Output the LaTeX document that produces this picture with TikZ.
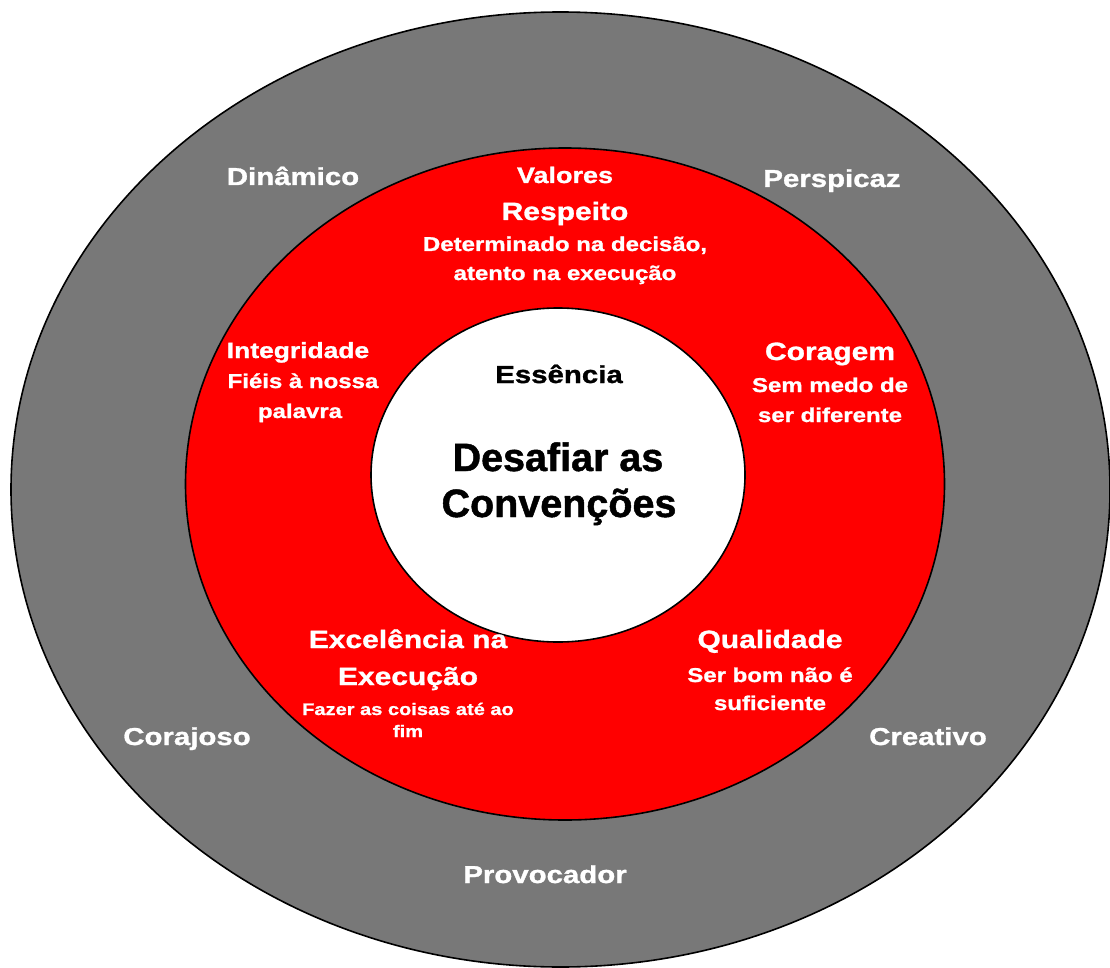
\documentclass[tikz,border=0pt]{standalone}
\usepackage{fontspec}
\setmainfont{Liberation Sans}
\newfontfamily\heavyfont{Liberation Sans}[FakeStretch=1.2, FakeBold=1.2]
\newfontfamily\titlefont{Liberation Sans}[FakeBold=1.2]
\usepackage{tikz}

\definecolor{ringgrey}{HTML}{787878}
\definecolor{ringred}{HTML}{FF0000}

\begin{document}
\begin{tikzpicture}[x=1pt, y=-1pt,
  ring/.style={draw=black, line width=1.6pt},
  outerlabel/.style={anchor=base, text=white, inner sep=0pt, font=\heavyfont\bfseries\fontsize{24.5}{29}\selectfont},
  valuetitle/.style={anchor=base, text=white, inner sep=0pt, font=\heavyfont\bfseries\fontsize{25}{30}\selectfont},
  valuetext/.style={anchor=base, text=white, inner sep=0pt, font=\heavyfont\bfseries\fontsize{20}{25}\selectfont}]

\useasboundingbox (0,0) rectangle (1110,968);
\clip (0,0) rectangle (1110,968);

\fill[white] (0,0) rectangle (1110,968);

% three rings
\draw[ring, fill=ringgrey] (560.5,489.5) ellipse [x radius=549.5pt, y radius=477.5pt];
\draw[ring, fill=ringred] (565,484) ellipse [x radius=379.5pt, y radius=336pt];
\draw[ring, fill=white] (558,475) ellipse [x radius=187pt, y radius=167pt];

% outer ring
\node[outerlabel] (dinamico) at (293,185) {Dinâmico};
\node[outerlabel] (perspicaz) at (832,187) {Perspicaz};
\node[outerlabel] (corajoso) at (187,745) {Corajoso};
\node[outerlabel] (creativo) at (928,745) {Creativo};
\node[outerlabel] (provocador) at (545,883) {Provocador};

% values
\node[valuetitle, font=\heavyfont\bfseries\fontsize{22.5}{27}\selectfont] (valores) at (565,183) {Valores};
\node[valuetitle] (respeito) at (565,220) {Respeito};
\node[valuetext] (respeito1) at (565,251) {Determinado na decisão,};
\node[valuetext] (respeito2) at (565,280) {atento na execução};

\node[valuetitle, font=\heavyfont\bfseries\fontsize{22}{27}\selectfont] (integridade) at (298,358) {Integridade};
\node[valuetext] (integridade1) at (303,388) {Fiéis à nossa};
\node[valuetext] (integridade2) at (300,418) {palavra};

\node[valuetitle] (coragem) at (830,360) {Coragem};
\node[valuetext] (coragem1) at (830,392) {Sem medo de};
\node[valuetext] (coragem2) at (830,422) {ser diferente};

\node[valuetitle] (qualidade) at (770,648) {Qualidade};
\node[valuetext] (qualidade1) at (770,682) {Ser bom não é};
\node[valuetext] (qualidade2) at (770,710) {suficiente};

\node[valuetitle] (excelencia) at (408,648) {Excelência na};
\node[valuetitle] (excelencia1) at (408,685) {Execução};
\node[valuetext, font=\heavyfont\bfseries\fontsize{16.7}{20}\selectfont] (excelencia2) at (408,715) {Fazer as coisas até ao};
\node[valuetext, font=\heavyfont\bfseries\fontsize{16.7}{20}\selectfont] (excelencia3) at (408,737) {fim};

% essence
\node[outerlabel, text=black] (essencia) at (559,383) {Essência};
\node[anchor=base, inner sep=0pt, font=\titlefont\bfseries\fontsize{39.5}{46}\selectfont] (desafio1) at (558,471) {Desafiar as};
\node[anchor=base, inner sep=0pt, font=\titlefont\bfseries\fontsize{39.5}{46}\selectfont] (desafio2) at (559,517) {Convenções};

\end{tikzpicture}
\end{document}
